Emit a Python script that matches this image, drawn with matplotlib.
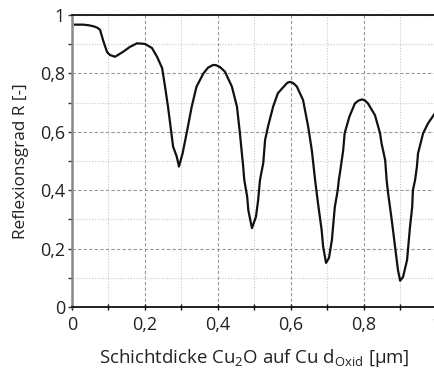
import matplotlib
matplotlib.use("Agg")
import matplotlib.pyplot as plt
from matplotlib.ticker import MultipleLocator, FuncFormatter

plt.rcParams['font.family'] = ['Open Sans', 'DejaVu Sans']

thickness = [0.008, 0.03, 0.045, 0.06, 0.07, 0.077, 0.085, 0.096, 0.104, 0.118, 0.14, 0.159,
             0.178, 0.2, 0.219, 0.233, 0.247, 0.255, 0.263, 0.27, 0.277, 0.287, 0.293, 0.303,
             0.314, 0.328, 0.341, 0.36, 0.373, 0.387, 0.395, 0.405, 0.419, 0.438, 0.452, 0.46,
             0.469, 0.472, 0.48, 0.483, 0.493, 0.504, 0.51, 0.515, 0.524, 0.529, 0.537, 0.551,
             0.564, 0.584, 0.59, 0.597, 0.606, 0.616, 0.633, 0.647, 0.657, 0.664, 0.666, 0.674,
             0.684, 0.688, 0.696, 0.704, 0.712, 0.72, 0.728, 0.731, 0.734, 0.743, 0.747, 0.76,
             0.775, 0.785, 0.795, 0.803, 0.811, 0.83, 0.844, 0.848, 0.858, 0.862, 0.866, 0.876,
             0.885, 0.893, 0.899, 0.907, 0.918, 0.926, 0.932, 0.934, 0.94, 0.945, 0.948, 0.962,
             0.975, 0.994, 1.0]
reflectance = [0.967, 0.967, 0.965, 0.961, 0.956, 0.949, 0.914, 0.873, 0.863, 0.857, 0.874, 0.891,
               0.903, 0.901, 0.887, 0.857, 0.818, 0.754, 0.686, 0.618, 0.549, 0.515, 0.481, 0.526,
               0.595, 0.686, 0.754, 0.80, 0.82, 0.829, 0.828, 0.822, 0.806, 0.755, 0.686, 0.595,
               0.481, 0.435, 0.377, 0.332, 0.27, 0.309, 0.366, 0.435, 0.493, 0.572, 0.618, 0.686,
               0.732, 0.76, 0.768, 0.771, 0.767, 0.755, 0.709, 0.618, 0.537, 0.458, 0.435, 0.355,
               0.263, 0.207, 0.151, 0.168, 0.229, 0.342, 0.4, 0.435, 0.458, 0.537, 0.595, 0.652,
               0.697, 0.707, 0.711, 0.707, 0.697, 0.657, 0.595, 0.561, 0.503, 0.435, 0.39, 0.298,
               0.207, 0.127, 0.09, 0.103, 0.161, 0.274, 0.342, 0.4, 0.435, 0.481, 0.526, 0.595,
               0.628, 0.663, 0.672]

fig = plt.figure(figsize=(4.35, 3.69), dpi=100)
ax = fig.add_axes([72/435, 62/369, 365/435, 292/369])

ax.plot(thickness, reflectance, color='#111111', lw=1.6, solid_joinstyle='round')

ax.set_xlim(0, 1)
ax.set_ylim(0, 1)
ax.xaxis.set_major_locator(MultipleLocator(0.2))
ax.xaxis.set_minor_locator(MultipleLocator(0.1))
ax.yaxis.set_major_locator(MultipleLocator(0.2))
ax.yaxis.set_minor_locator(MultipleLocator(0.1))

fmt = FuncFormatter(lambda v, p: ('%g' % round(v, 2)).replace('.', ','))
ax.xaxis.set_major_formatter(fmt)
ax.yaxis.set_major_formatter(fmt)

ax.grid(which='major', color='#999999', ls=(0, (3, 2)), lw=0.8)
ax.grid(which='minor', color='#c8c8c8', ls=(0, (1, 1.5)), lw=0.8)
ax.set_axisbelow(True)

ax.spines['left'].set_color('#888888')
ax.spines['left'].set_linewidth(1.8)
ax.spines['bottom'].set_color('#111111')
ax.spines['bottom'].set_linewidth(1.3)
ax.spines['top'].set_color('#111111')
ax.spines['top'].set_linewidth(1.3)
ax.spines['right'].set_visible(False)

ax.tick_params(axis='x', which='both', direction='inout', length=5, width=1, color='#111111',
               labelsize=13, labelcolor='#222222', pad=4)
ax.tick_params(axis='y', which='both', direction='out', length=3, width=1, color='#333333',
               labelsize=13, labelcolor='#222222', pad=2)

ax.set_xlabel('Schichtdicke Cu$_\\mathregular{2}$O auf Cu d$_\\mathregular{Oxid}$ [µm]',
              fontsize=13.4, color='#222222', labelpad=9)
ax.set_ylabel('Reflexionsgrad R [-]', fontsize=12.4, color='#222222', labelpad=8)

fig.savefig('out.png', dpi=100)
